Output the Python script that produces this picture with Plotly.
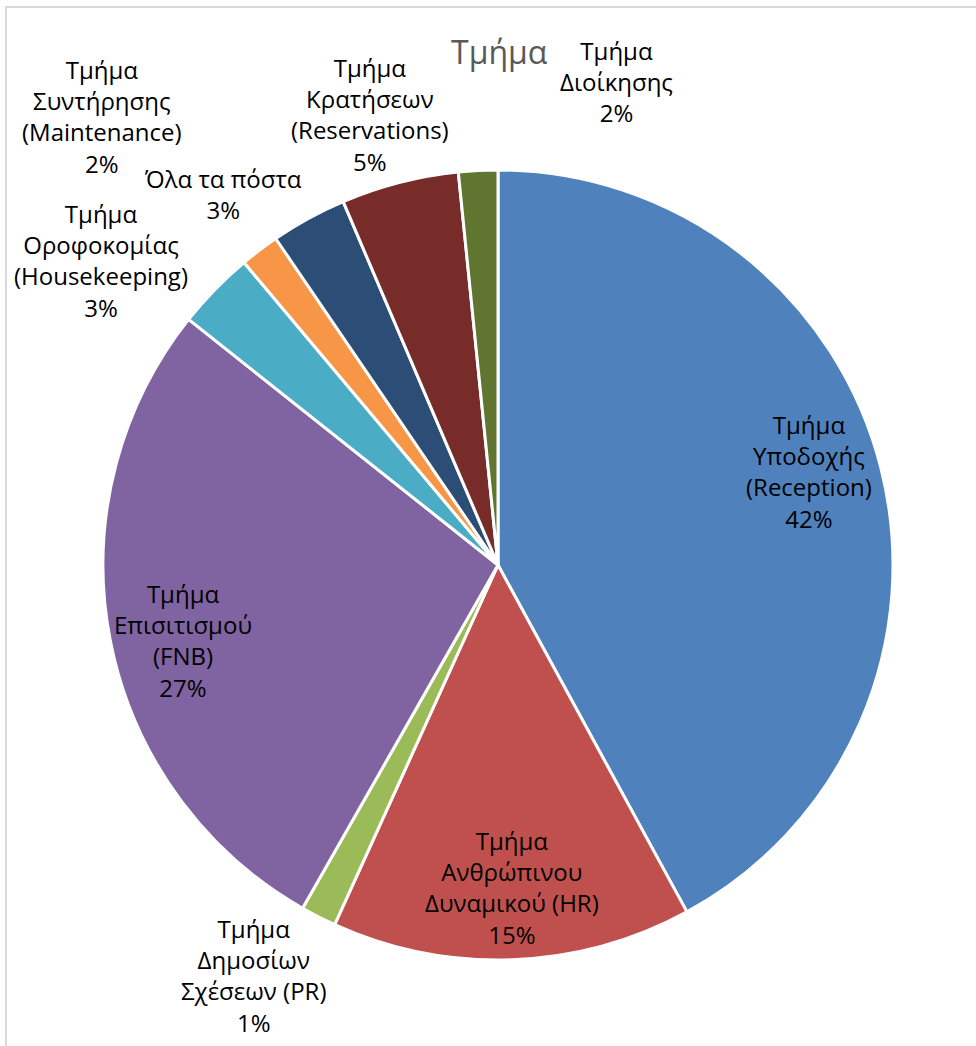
import plotly.graph_objects as go

# Department shares (percent of responses)
departments = [
    "Τμήμα<br>Υποδοχής<br>(Reception)",
    "Τμήμα<br>Ανθρώπινου<br>Δυναμικού (HR)",
    "Τμήμα<br>Δημοσίων<br>Σχέσεων (PR)",
    "Τμήμα<br>Επισιτισμού<br>(FNB)",
    "Τμήμα<br>Οροφοκομίας<br>(Housekeeping)",
    "Τμήμα<br>Συντήρησης<br>(Maintenance)",
    "Όλα τα πόστα",
    "Τμήμα<br>Κρατήσεων<br>(Reservations)",
    "Τμήμα<br>Διοίκησης",
]
shares = [42.0, 14.7, 1.45, 27.4, 3.2, 1.6, 3.1, 4.8, 1.6]
colors = ["#4F81BD", "#C0504D", "#9BBB59", "#8064A2", "#4BACC6",
          "#F79646", "#2C4D75", "#772C2A", "#5F7530"]

# Label anchor positions in pixels (x, y from top)
label_pos = [(809, 471), (512, 887), (253, 975), (183, 640), (101, 260),
             (102, 116), (223, 194), (370, 114), (616, 82)]

W, H = 976, 1046
cx, cy, r = 498, 565, 395

fig = go.Figure(go.Pie(
    labels=[d.replace("<br>", " ") for d in departments],
    values=shares,
    sort=False,
    direction="clockwise",
    rotation=0,
    marker=dict(colors=colors, line=dict(color="white", width=3)),
    textinfo="none",
    hoverinfo="label+percent",
    domain=dict(x=[(cx - r) / W, (cx + r) / W],
                y=[(H - cy - r) / H, (H - cy + r) / H]),
    showlegend=False,
))

total = sum(shares)
font = dict(family="Open Sans, Noto Sans, sans-serif", size=24, color="#000000")
for name, val, (px, py) in zip(departments, shares, label_pos):
    fig.add_annotation(
        x=px / W, y=1 - py / H, xref="paper", yref="paper",
        text=f"{name}<br>{round(val / total * 100):.0f}%",
        showarrow=False, xanchor="center", yanchor="middle",
        font=font, align="center",
    )

# Chart title
fig.add_annotation(
    x=499 / W, y=1 - 51 / H, xref="paper", yref="paper",
    text="Τμήμα", showarrow=False, xanchor="center", yanchor="middle",
    font=dict(family="Open Sans, Noto Sans, sans-serif", size=32, color="#595959"),
)

# Chart-area frame
fig.add_shape(type="rect", xref="paper", yref="paper",
              x0=6 / W, x1=1.02, y0=-0.02, y1=1 - 7 / H,
              line=dict(color="#D9D9D9", width=2), fillcolor="rgba(0,0,0,0)")

fig.update_layout(
    width=W, height=H,
    margin=dict(l=0, r=0, t=0, b=0),
    paper_bgcolor="white", plot_bgcolor="white",
)

fig.write_html("out.html")
